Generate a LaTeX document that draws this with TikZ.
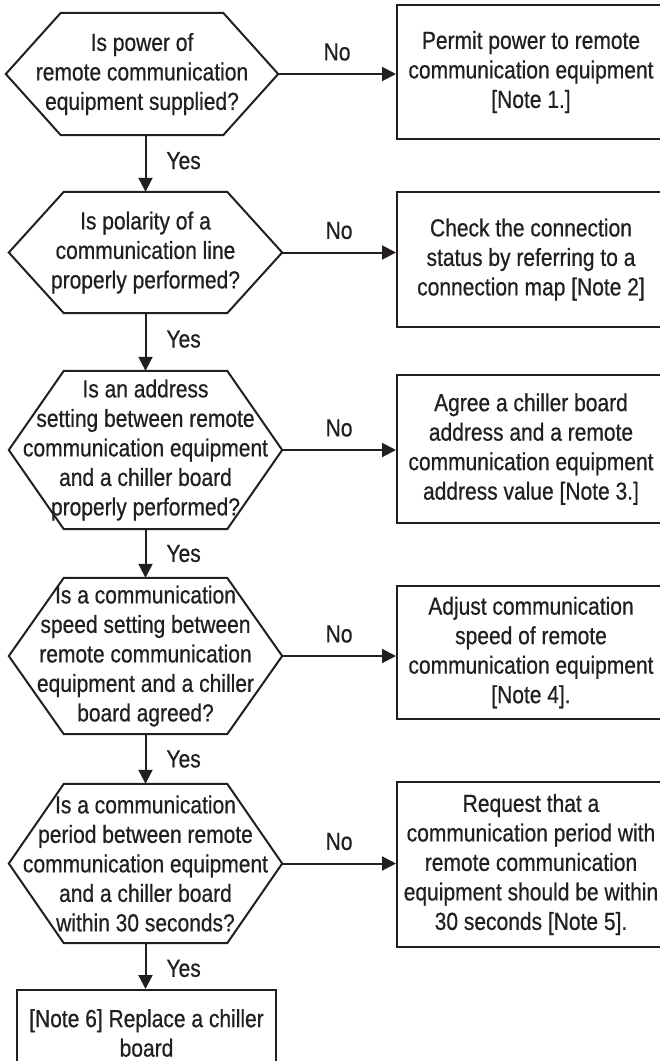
\documentclass[tikz,border=0pt]{standalone}
\usepackage{fontspec}
\setmainfont[FakeStretch=0.85,FakeBold=0.6]{Liberation Sans}
\usetikzlibrary{arrows.meta,calc}
\definecolor{ink}{RGB}{35,31,32}
\tikzset{
  txt/.style={font=\fontsize{24.7pt}{29.5pt}\selectfont, text=ink, align=center},
  hexnode/.style={txt, rectangle, inner sep=0pt, minimum width=273pt, draw=none},
  boxnode/.style={txt, rectangle, inner sep=0pt, minimum width=268pt, draw=ink, line width=2pt},
  outline/.style={draw=ink, line width=2pt, line join=miter},
  conn/.style={draw=ink, line width=2pt, -{Triangle[length=14pt,width=14pt]}},
  lbl/.style={txt, inner sep=0pt}
}
\newcommand\drawhexagon[1]{\draw[outline] ($(#1.north west)+(55,0)$) -- ($(#1.north east)+(-55,0)$) -- (#1.east) -- ($(#1.south east)+(-55,0)$) -- ($(#1.south west)+(55,0)$) -- (#1.west) -- cycle;}
\begin{document}
\begin{tikzpicture}[x=1pt,y=-1pt]
\useasboundingbox (0,0) rectangle (660,1061);
\clip (0,0) rectangle (660,1061);
\fill[white] (0,0) rectangle (660,1061);

% decisions
\node[hexnode, minimum width=272pt, minimum height=122pt] (h1) at (142,74) {Is power of\\remote communication\\equipment supplied?};
\node[hexnode, minimum height=121pt] (h2) at (145.5,252.5) {Is polarity of a\\communication line\\properly performed?};
\node[hexnode, minimum height=158pt] (h3) at (145.5,450) {Is an address\\setting between remote\\communication equipment\\and a chiller board\\properly performed?};
\node[hexnode, minimum height=156pt] (h4) at (145.5,656) {Is a communication\\speed setting between\\remote communication\\equipment and a chiller\\board agreed?};
\node[hexnode, minimum height=159pt] (h5) at (145.5,863.5) {Is a communication\\period between remote\\communication equipment\\and a chiller board\\within 30 seconds?};
\drawhexagon{h1}
\drawhexagon{h2}
\drawhexagon{h3}
\drawhexagon{h4}
\drawhexagon{h5}

% actions
\node[boxnode, minimum height=134pt] (b1) at (531,72) {Permit power to remote\\communication equipment\\{[}Note 1.]};
\node[boxnode, minimum height=135pt] (b2) at (531,259.5) {Check the connection\\status by referring to a\\connection map {[}Note 2]};
\node[boxnode, minimum height=148pt] (b3) at (531,449) {Agree a chiller board\\address and a remote\\communication equipment\\address value {[}Note 3.]};
\node[boxnode, minimum height=133pt] (b4) at (531,652.5) {Adjust communication\\speed of remote\\communication equipment\\{[}Note 4].};
\node[boxnode, minimum height=165pt] (b5) at (531,864.5) {Request that a\\communication period with\\remote communication\\equipment should be within\\30 seconds {[}Note 5].};
\node[boxnode, minimum width=259pt, minimum height=86pt] (b6) at (146.5,1033) {{[}Note 6] Replace a chiller\\board};

% No connectors
\draw[conn] (h1.east) -- (h1.east -| b1.west) node[lbl, midway, yshift=22pt] {No};
\draw[conn] (h2.east) -- (h2.east -| b2.west) node[lbl, midway, yshift=22pt] {No};
\draw[conn] (h3.east) -- (h3.east -| b3.west) node[lbl, midway, yshift=22pt] {No};
\draw[conn] (h4.east) -- (h4.east -| b4.west) node[lbl, midway, yshift=22pt] {No};
\draw[conn] (h5.east) -- (h5.east -| b5.west) node[lbl, midway, yshift=22pt] {No};

% Yes connectors
\draw[conn] (h1.south -| h2.north) -- (h2.north) node[lbl, pos=0.45, anchor=west, xshift=20pt] {Yes};
\draw[conn] (h2.south) -- (h3.north) node[lbl, pos=0.45, anchor=west, xshift=20pt] {Yes};
\draw[conn] (h3.south) -- (h4.north) node[lbl, pos=0.5, anchor=west, xshift=20pt] {Yes};
\draw[conn] (h4.south) -- (h5.north) node[lbl, pos=0.5, anchor=west, xshift=20pt] {Yes};
\draw[conn] (h5.south) -- (b6.north -| h5.south) node[lbl, pos=0.55, anchor=west, xshift=20pt] {Yes};
\end{tikzpicture}
\end{document}
